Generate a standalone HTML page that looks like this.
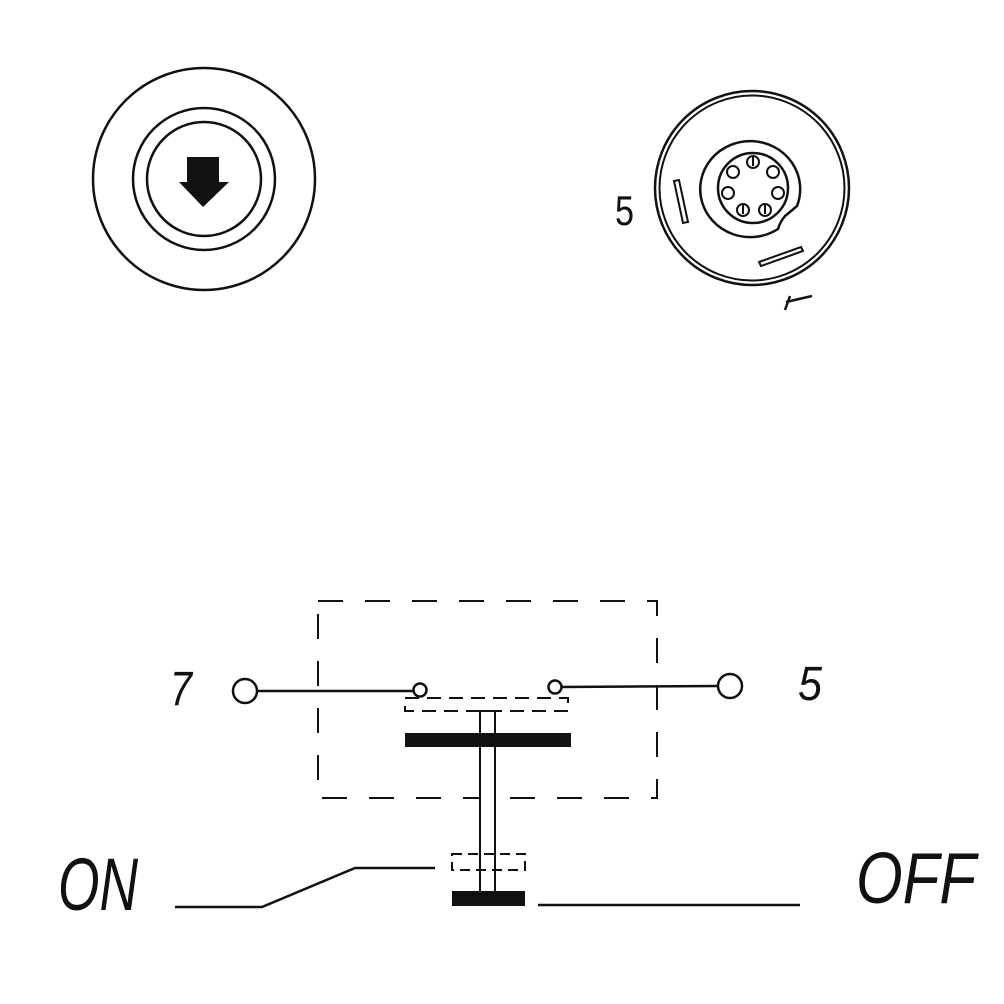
<!DOCTYPE html>
<html><head><meta charset="utf-8"><style>html,body{margin:0;padding:0;background:#fff}svg{display:block}</style></head>
<body>
<svg width="1004" height="1004" viewBox="0 0 1004 1004" xmlns="http://www.w3.org/2000/svg" fill="none" stroke="#111" stroke-width="2.5">
<!-- left button -->
<circle cx="204" cy="179" r="111"/>
<circle cx="204" cy="179" r="71"/>
<circle cx="204" cy="179" r="57"/>
<polygon points="187,157 219,157 219,182 229,182 203,207 179,182 187,182" fill="#111" stroke="none"/>
<!-- right connector -->
<circle cx="752" cy="188" r="97"/>
<circle cx="752" cy="188" r="92.5" stroke-width="2"/>
<path d="M778,229 A50,48 0 1 1 797,206 Q790,212 785,216 Q780,222 778,229 Z"/>
<circle cx="753" cy="188" r="35"/>
<g stroke-width="2">
<circle cx="753" cy="162" r="6"/><circle cx="773" cy="172" r="6"/><circle cx="778" cy="193" r="6"/>
<circle cx="765" cy="210" r="6"/><circle cx="743" cy="210" r="6"/><circle cx="728" cy="193" r="6"/><circle cx="733" cy="172" r="6"/>
<line x1="753" y1="157" x2="753" y2="166"/><line x1="765" y1="205" x2="765" y2="214"/><line x1="743" y1="205" x2="743" y2="214"/>
</g>
<polygon points="674,181 679,180 688,222 683,223" stroke-width="2"/>
<polygon points="759,262 801,247 803,251 761,266" stroke-width="2"/>
<text x="615" y="225" font-family="Liberation Sans, sans-serif" font-size="42" fill="#111" stroke="none" textLength="19" lengthAdjust="spacingAndGlyphs">5</text>
<path d="M790,296 L785,310 M786,302 L812,296" stroke-width="2.5"/>
<!-- dashed housing -->
<rect x="318" y="601" width="339" height="197" stroke-width="2" stroke-dasharray="25,22"/>
<!-- terminals -->
<circle cx="245" cy="691" r="12"/>
<circle cx="730" cy="686" r="12"/>
<line x1="257" y1="691" x2="414" y2="691"/>
<line x1="561" y1="687" x2="718" y2="686"/>
<circle cx="420" cy="690" r="6.5"/>
<circle cx="555" cy="687" r="6.5"/>
<rect x="405" y="698" width="163" height="13" stroke-width="2" stroke-dasharray="14,8"/>
<rect x="480" y="711" width="15" height="182" stroke-width="2" fill="#fff"/>
<rect x="405" y="733" width="166" height="14" fill="#111" stroke="none"/>
<rect x="452" y="854" width="73" height="16" stroke-width="2" stroke-dasharray="10,6"/>
<line x1="480" y1="854" x2="480" y2="893" stroke-width="2"/><line x1="495" y1="854" x2="495" y2="893" stroke-width="2"/>
<rect x="452" y="891" width="73" height="15" fill="#111" stroke="none"/>
<polyline points="175,907 262,907 355,868 435,868"/>
<line x1="538" y1="905" x2="800" y2="905"/>
<!-- labels -->
<g font-family="Liberation Sans, sans-serif" font-style="italic" fill="#111" stroke="none">
<text x="170" y="705" font-size="48" textLength="22" lengthAdjust="spacingAndGlyphs">7</text>
<text x="798" y="700" font-size="48" textLength="24" lengthAdjust="spacingAndGlyphs">5</text>
<text x="58" y="910" font-size="74" textLength="80" lengthAdjust="spacingAndGlyphs" font-weight="normal">ON</text>
<text x="856" y="903" font-size="72" textLength="120" lengthAdjust="spacingAndGlyphs">OFF</text>
</g>
</svg>
</body></html>
